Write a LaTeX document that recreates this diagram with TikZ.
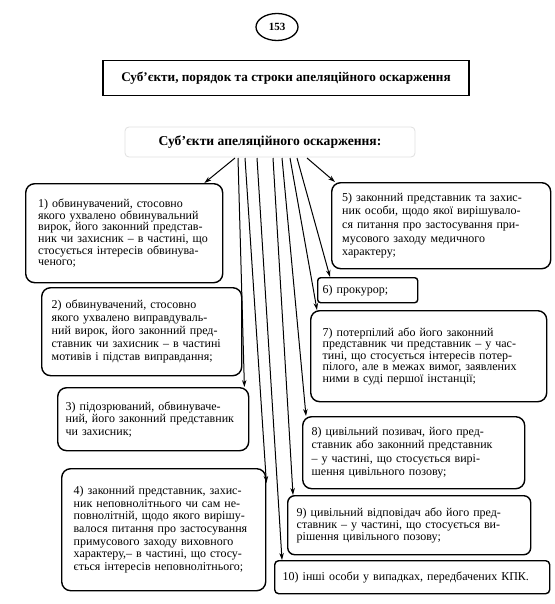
\documentclass[tikz,border=0pt]{standalone}
\usepackage{fontspec}
\setmainfont{Liberation Serif}
\usetikzlibrary{arrows.meta,shapes.geometric}
\newcommand\jl[1]{\makebox[\linewidth][s]{#1}\\}
\begin{document}
\begin{tikzpicture}[x=1pt,y=-1pt,
  bx/.style={draw, line width=1.4pt, rounded corners=9pt, anchor=north west, align=left, inner ysep=0pt},
  conn/.style={line width=1pt, -{Stealth[length=7pt,width=4.5pt]}},
  fs/.style={font=\fontsize{12}{#1}\selectfont},
]
\useasboundingbox[fill=white] (0,0) rectangle (554,604);

\node[draw, ellipse, line width=1.3pt, minimum width=42pt, minimum height=27pt, inner sep=0pt, font=\fontsize{11}{12}\selectfont\bfseries] (pg) at (277,27) {153};

\node[draw, line width=1.2pt, minimum width=366pt, minimum height=35pt, inner sep=0pt, font=\fontsize{13.2}{14}\selectfont\bfseries] (ttl) at (286,78) {Суб’єкти, порядок та строки апеляційного оскарження};

\node[draw=black!12, line width=0.8pt, rounded corners=4pt, minimum width=290pt, minimum height=30pt, inner sep=0pt, font=\fontsize{13.6}{14}\selectfont\bfseries] (hdr) at (270,142) {Суб’єкти апеляційного оскарження:};

\node[bx, fs=11.7, minimum width=197pt, minimum height=99pt, inner xsep=12pt, text width=172pt] (b1) at (25,183) {\jl{1) обвинувачений, стосовно}\jl{якого ухвалено обвинувальний}\jl{вирок, його законний представ-}\jl{ник чи захисник – в частині, що}\jl{стосується інтересів обвинува-}ченого;};

\node[bx, fs=12.9, minimum width=200pt, minimum height=88pt, inner xsep=10pt, text width=180pt] (b2) at (41,287) {\jl{2) обвинувачений, стосовно}\jl{якого ухвалено виправдуваль-}\jl{ний вирок, його законний пред-}\jl{ставник чи захисник – в частині}мотивів і підстав виправдання;};

\node[bx, fs=12.5, minimum width=191pt, minimum height=63pt, inner xsep=8pt, text width=175pt] (b3) at (57,387) {\jl{3) підозрюваний, обвинуваче-}\jl{ний, його законний представник}чи захисник;};

\node[bx, fs=12.6, minimum width=204pt, minimum height=122pt, inner xsep=11pt, text width=180pt] (b4) at (61,468) {\jl{4) законний представник, захис-}\jl{ник неповнолітнього чи сам не-}\jl{повнолітній, щодо якого вирішу-}\jl{валося питання про застосування}\jl{примусового заходу виховного}\jl{характеру,– в частині, що стосу-}\makebox[\linewidth][s]{ється інтересів неповнолітнього;}};

\node[bx, fs=13.7, minimum width=219pt, minimum height=86pt, inner xsep=9pt, text width=198pt] (b5) at (331,182) {\jl{5) законний представник та захис-}\jl{ник особи, щодо якої вирішувало-}\jl{ся питання про застосування при-}мусового заходу медичного\\ характеру;};

\node[bx, fs=13, rounded corners=3pt, minimum width=100pt, minimum height=25pt, inner xsep=5pt, text width=90pt] (b6) at (317,277) {6) прокурор;};

\node[bx, fs=11.6, minimum width=236pt, minimum height=91pt, inner xsep=12pt, text width=212pt] (b7) at (310,310) {\jl{7) потерпілий або його законний}\jl{представник чи представник – у час-}\jl{тині, що стосується інтересів потер-}\jl{пілого, але в межах вимог, заявлених}ними в суді першої інстанції;};

\node[bx, fs=13.3, minimum width=222pt, minimum height=72pt, inner xsep=8pt, text width=204pt] (b8) at (302,416) {\jl{8) цивільний позивач, його пред-}\jl{ставник або законний представник}\jl{– у частині, що стосується вирі-}шення цивільного позову;};

\node[bx, fs=12, rounded corners=7pt, minimum width=243pt, minimum height=59pt, inner xsep=8pt, text width=225pt] (b9) at (287,495) {\jl{9) цивільний відповідач або його пред-}\jl{ставник – у частині, що стосується ви-}рішення цивільного позову;};

\node[bx, fs=13, rounded corners=4pt, minimum width=275pt, minimum height=33pt, inner xsep=8pt, text width=259pt] (b10) at (274,560) {\makebox[\linewidth][s]{10) інші особи у випадках, передбачених КПК.}};

\coordinate (s1) at (235,158);
\coordinate (s3) at (238,158);
\coordinate (s4) at (245,158);
\coordinate (s10) at (257,158);
\coordinate (s9) at (273,158);
\coordinate (s8) at (282,158);
\coordinate (s7) at (290,158);
\coordinate (s6) at (297,158);
\coordinate (s5) at (307,158);

\draw[conn] (s1) -- ([xshift=-19pt]b1.north east);
\draw[conn] (s3) -- ([xshift=-5pt]b3.north east);
\draw[conn] (s4) -- ([yshift=-15pt]b4.north east);
\draw[conn] (s10) -- ([xshift=8pt]b10.north west);
\draw[conn] (s9) -- ([xshift=6pt]b9.north west);
\draw[conn] (s8) -- ([xshift=4pt]b8.north west);
\draw[conn] (s7) -- ([xshift=7pt]b7.north west);
\draw[conn] (s6) -- ([xshift=13pt]b6.north west);
\draw[conn] (s5) -- ([xshift=4pt]b5.north west);
\end{tikzpicture}
\end{document}
